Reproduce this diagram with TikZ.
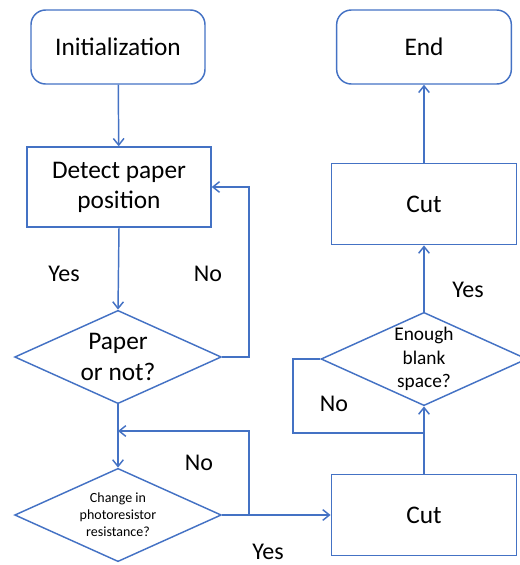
\documentclass[tikz,border=0pt]{standalone}
\usepackage{fontspec}
\setmainfont{Carlito}
\usepackage{tikz}
\usetikzlibrary{shapes.geometric,arrows.meta}
\definecolor{flowblue}{RGB}{68,114,196}

\begin{document}
\begin{tikzpicture}[x=0.75pt,y=-0.75pt,
    line/.style={draw=flowblue, line width=1.1pt},
    arr/.style={line, -{Straight Barb[length=5pt,width=8pt]}},
    term/.style={line, rounded corners=11pt, minimum width=130.5pt, minimum height=55.5pt, font=\fontsize{19}{22.5}\selectfont},
    proc/.style={line, minimum width=138pt, minimum height=60pt, align=center, font=\fontsize{19}{22.5}\selectfont},
    decide/.style={line, diamond, aspect=2.2, inner sep=0pt, minimum width=155pt, minimum height=70pt, align=center},
    lbl/.style={font=\fontsize{18}{21}\selectfont}]
      \useasboundingbox (0,0) rectangle (519,565);
      \node (init) at (118,47)  [term] {Initialization};
      \node (detect) at (119,187)  [proc] {Detect paper\\position};
      \node (paper) at (118,357)  [decide, font=\fontsize{19}{23.8}\selectfont] {Paper\\or not?};
      \node (change) at (118,515)  [decide, font=\fontsize{10.5}{12.75}\selectfont] {Change in\\photoresistor\\resistance?};
      \node (cutA) at (424,515)  [proc, minimum width=139pt, minimum height=61pt] {Cut};
      \node (blank) at (424,359)  [decide, minimum width=154.5pt, font=\fontsize{14.5}{17.8}\selectfont] {Enough\\blank\\space?};
      \node (cutB) at (424,204)  [proc, minimum width=139pt, minimum height=61pt] {Cut};
      \node (endn) at (424,47)  [term, minimum width=131pt] {End};
      \coordinate (noA) at (249,357);
      \coordinate (noB) at (249,515);
      \coordinate (joinA) at (118,431);
      \coordinate (noC) at (293,359);
      \coordinate (joinB) at (424,433);
      \draw[arr] (init) to (detect);
      \draw[arr] (detect.south) to (paper.north);
      \draw[arr] (paper.east) to (noA) |- (detect.east);
      \draw[arr] (paper.south) to (change.north);
      \draw[arr] (change.east) to (noB) |- (joinA);
      \draw[arr] (change.east) to (cutA.west);
      \draw[arr] (cutA.north) to (blank.south);
      \draw[line] (blank.west) to (noC) |- (joinB);
      \draw[arr] (blank.north) to (cutB.south);
      \draw[arr] (cutB.north) to (endn.south);
      \node (yesA) at (64,274) [lbl] {Yes};
      \node (noLA) at (208,274) [lbl] {No};
      \node (noLB) at (199,463) [lbl] {No};
      \node (yesB) at (268,552) [lbl] {Yes};
      \node (noLC) at (334,404) [lbl] {No};
      \node (yesC) at (468,290) [lbl] {Yes};
    \end{tikzpicture}
\end{document}
